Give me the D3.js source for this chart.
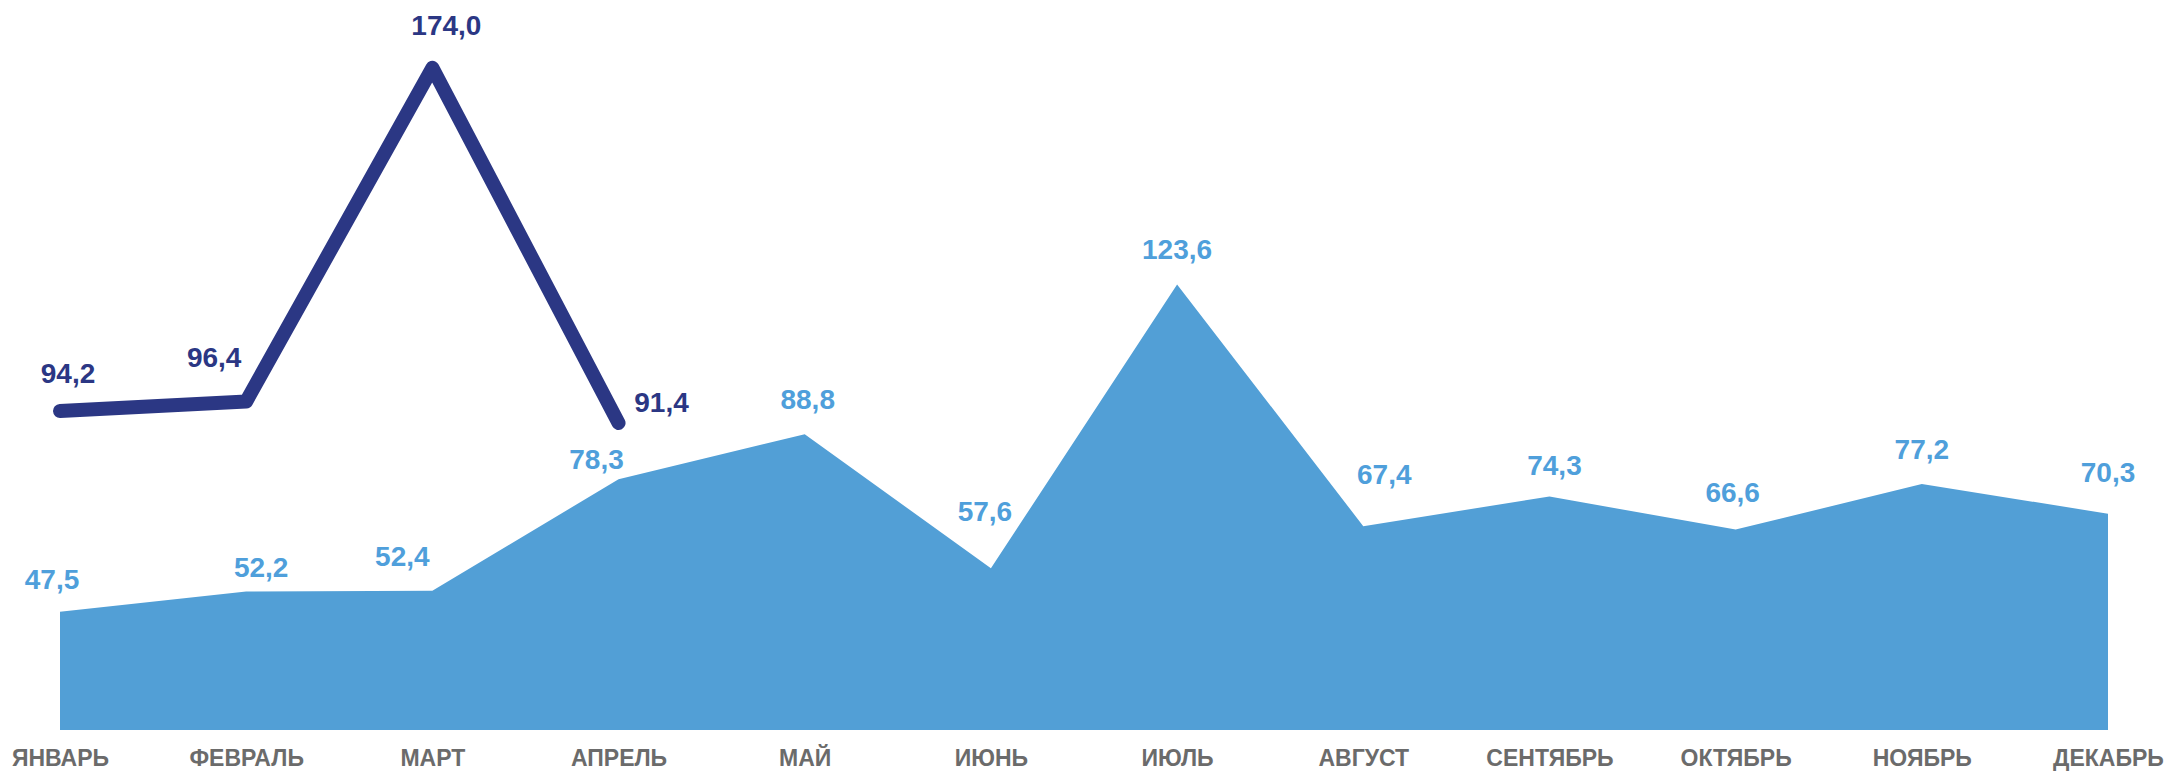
<!DOCTYPE html>
<html>
<head>
<meta charset="utf-8">
<script src="https://cdn.jsdelivr.net/npm/d3@7"></script>
<style>
  html, body { margin: 0; padding: 0; background: #fff; }
  text { font-family: "Liberation Sans", Arial, sans-serif; font-weight: bold; }
</style>
</head>
<body>
<div id="chart"></div>
<script>
var months = ["ЯНВАРЬ", "ФЕВРАЛЬ", "МАРТ", "АПРЕЛЬ", "МАЙ", "ИЮНЬ", "ИЮЛЬ",
              "АВГУСТ", "СЕНТЯБРЬ", "ОКТЯБРЬ", "НОЯБРЬ", "ДЕКАБРЬ"];
var prevYear = [47.5, 52.2, 52.4, 78.3, 88.8, 57.6, 123.6, 67.4, 74.3, 66.6, 77.2, 70.3];
var curYear = [94.2, 96.4, 174.0, 91.4];

// label nudges (layout only), [dx, dy] from the point
var prevNudge = [[-8, -23], [15, -15], [-30, -25], [-22, -10], [3, -25], [-6, -47],
                 [0, -26], [21, -42], [5, -22], [-3, -28], [0, -25], [0, -32]];
var curNudge = [[8, -28], [-32, -34], [14, -33], [43, -11]];

var width = 2164, height = 771;

var svg = d3.select("#chart").append("svg")
    .attr("width", width)
    .attr("height", height);

var x = d3.scalePoint()
    .domain(months)
    .range([60, 2108]);

var y = d3.scaleLinear()
    .domain([20, 180])
    .range([730, 42]);

var fmt = d3.formatLocale({ decimal: ",", thousands: " ", grouping: [3], currency: ["", ""] }).format(".1f");

// area: previous year
var area = d3.area()
    .x(function (d, i) { return x(months[i]); })
    .y0(y(20))
    .y1(function (d) { return y(d); });

svg.append("path")
    .datum(prevYear)
    .attr("fill", "#529fd6")
    .attr("d", area);

// line: current year
var line = d3.line()
    .x(function (d, i) { return x(months[i]); })
    .y(function (d) { return y(d); });

svg.append("path")
    .datum(curYear)
    .attr("fill", "none")
    .attr("stroke", "#2b3784")
    .attr("stroke-width", 14)
    .attr("stroke-linecap", "round")
    .attr("stroke-linejoin", "round")
    .attr("d", line);

// value labels
svg.append("g")
    .selectAll("text")
    .data(prevYear)
    .enter().append("text")
    .attr("x", function (d, i) { return x(months[i]) + prevNudge[i][0]; })
    .attr("y", function (d, i) { return y(d) + prevNudge[i][1]; })
    .attr("text-anchor", "middle")
    .attr("font-size", 28)
    .attr("fill", "#4f9fdb")
    .text(fmt);

svg.append("g")
    .selectAll("text")
    .data(curYear)
    .enter().append("text")
    .attr("x", function (d, i) { return x(months[i]) + curNudge[i][0]; })
    .attr("y", function (d, i) { return y(d) + curNudge[i][1]; })
    .attr("text-anchor", "middle")
    .attr("font-size", 28)
    .attr("fill", "#2b3784")
    .text(fmt);

// month axis
var xAxis = svg.append("g")
    .attr("transform", "translate(0,750)")
    .call(d3.axisBottom(x).tickSize(0).tickPadding(0));

xAxis.select(".domain").remove();
xAxis.selectAll("text")
    .attr("font-size", 23)
    .attr("font-family", "Liberation Sans, Arial, sans-serif")
    .attr("font-weight", "bold")
    .attr("fill", "#6b6b6b");
</script>
</body>
</html>
